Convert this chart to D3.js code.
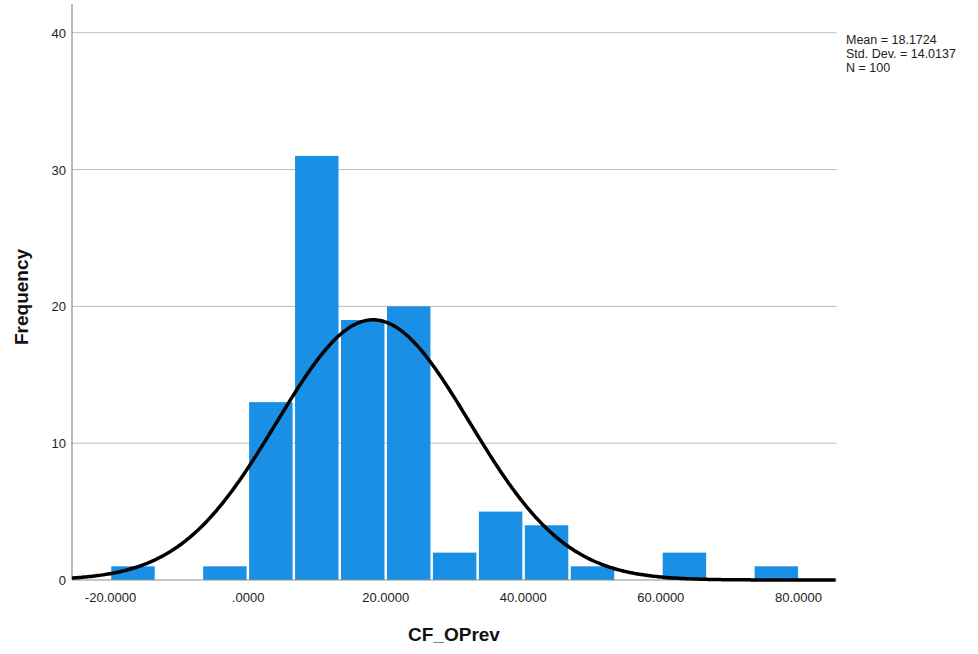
<!DOCTYPE html>
<html>
<head>
<meta charset="utf-8">
<script src="https://cdn.jsdelivr.net/npm/d3@7"></script>
<style>
  body { margin: 0; background: #fff; }
  svg { display: block; font-family: "Liberation Sans", Arial, sans-serif; }
</style>
</head>
<body>
<svg id="chart" width="978" height="654"></svg>
<script>
// histogram bins (left edges) and counts
const binStart = -20.04;
const binWidth = 6.68;
const counts = [1, 0, 1, 13, 31, 19, 20, 2, 5, 4, 1, 0, 2, 0, 1];
const xTicks = [-20, 0, 20, 40, 60, 80];
const yTicks = [0, 10, 20, 30, 40];
const stats = { mean: 18.1724, sd: 14.0137, n: 100 };
const statLines = ["Mean = 18.1724", "Std. Dev. = 14.0137", "N = 100"];

const svg = d3.select("#chart");

const x = d3.scaleLinear().domain([-25.6, 85.56]).range([72, 836.7]);
const y = d3.scaleLinear().domain([0, 42.1]).range([580, 4]);

const bins = counts.map((c, i) => ({ x0: binStart + i * binWidth, x1: binStart + (i + 1) * binWidth, count: c }));

// gridlines
svg.append("g")
    .selectAll("line")
    .data(yTicks.filter(d => d > 0))
    .join("line")
    .attr("x1", x.range()[0]).attr("x2", x.range()[1])
    .attr("y1", d => y(d)).attr("y2", d => y(d))
    .attr("stroke", "#bdbdbd").attr("stroke-width", 1);

// bars
svg.append("g")
    .selectAll("rect")
    .data(bins.filter(b => b.count > 0))
    .join("rect")
    .attr("x", d => x(d.x0) + 1)
    .attr("y", d => y(d.count))
    .attr("width", d => x(d.x1) - x(d.x0) - 2.5)
    .attr("height", d => y(0) - y(d.count))
    .attr("fill", "#1a8fe6");

// axes lines
svg.append("line")
    .attr("x1", x.range()[0]).attr("x2", x.range()[0])
    .attr("y1", y.range()[1]).attr("y2", y(0))
    .attr("stroke", "#8c8c8c").attr("stroke-width", 1.2);
svg.append("line")
    .attr("x1", x.range()[0]).attr("x2", x.range()[1])
    .attr("y1", y(0)).attr("y2", y(0))
    .attr("stroke", "#8c8c8c").attr("stroke-width", 1.2);

// tick labels
svg.append("g")
    .selectAll("text")
    .data(yTicks)
    .join("text")
    .attr("x", 66)
    .attr("y", d => y(d) + 5)
    .attr("text-anchor", "end")
    .attr("font-size", 13)
    .attr("fill", "#222")
    .text(d => d);

const fmt = d => d === 0 ? ".0000" : d.toFixed(4);
svg.append("g")
    .selectAll("text")
    .data(xTicks)
    .join("text")
    .attr("x", d => x(d))
    .attr("y", 602)
    .attr("text-anchor", "middle")
    .attr("font-size", 13)
    .attr("fill", "#222")
    .text(fmt);

// normal curve
const scale = stats.n * binWidth / (stats.sd * Math.sqrt(2 * Math.PI));
const pts = d3.range(x.domain()[0], x.domain()[1] + 0.01, 0.25)
    .map(v => [v, scale * Math.exp(-0.5 * Math.pow((v - stats.mean) / stats.sd, 2))]);
svg.append("path")
    .datum(pts)
    .attr("fill", "none")
    .attr("stroke", "#000")
    .attr("stroke-width", 3.5)
    .attr("d", d3.line().x(d => x(d[0])).y(d => y(d[1])));

// stats box
svg.append("g")
    .selectAll("text")
    .data(statLines)
    .join("text")
    .attr("x", 846)
    .attr("y", (d, i) => 44 + i * 14)
    .attr("font-size", 12.5)
    .attr("fill", "#222")
    .text(d => d);

// axis titles
svg.append("text")
    .attr("x", 454).attr("y", 641)
    .attr("text-anchor", "middle")
    .attr("font-size", 19).attr("font-weight", "bold")
    .attr("fill", "#111")
    .text("CF_OPrev");
svg.append("text")
    .attr("transform", "translate(28,297) rotate(-90)")
    .attr("text-anchor", "middle")
    .attr("font-size", 19).attr("font-weight", "bold")
    .attr("fill", "#111")
    .text("Frequency");
</script>
</body>
</html>
